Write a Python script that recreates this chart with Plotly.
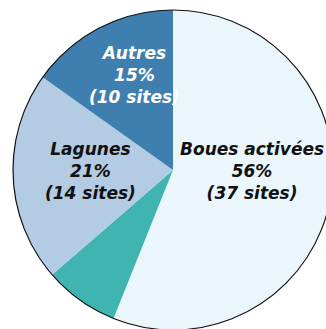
import plotly.graph_objects as go

# Répartition des sites par filière de traitement
categories = ["Boues activées", "Autres filières", "Lagunes", "Autres"]
sites = [37, 5, 14, 10]
colors = ["#EAF5FC", "#40B4B0", "#B3CBE3", "#3F7FB0"]
show_label = [True, False, True, True]
label_colors = ["#111111", None, "#111111", "#FFFFFF"]
# label anchor positions (pixels)
label_pos = [(252, 171), None, (90, 171), (134, 75)]

W, H = 345, 335
cx, cy, r = 173, 170, 160

total = sum(sites)

fig = go.Figure(go.Pie(
    labels=categories,
    values=sites,
    sort=False,
    direction="clockwise",
    rotation=0,
    marker=dict(colors=colors, line=dict(width=0)),
    textinfo="none",
    hoverinfo="label+value+percent",
    showlegend=False,
    domain=dict(x=[(cx - r) / W, (cx + r) / W], y=[1 - (cy + r) / H, 1 - (cy - r) / H]),
))

# outer outline of the disc
fig.add_shape(type="circle", xref="paper", yref="paper",
              x0=(cx - r) / W, x1=(cx + r) / W,
              y0=1 - (cy + r) / H, y1=1 - (cy - r) / H,
              line=dict(color="#111111", width=1.2))

for name, n, show, col, pos in zip(categories, sites, show_label, label_colors, label_pos):
    if not show:
        continue
    pct = round(n / total * 100)
    fig.add_annotation(
        x=pos[0] / W, y=1 - pos[1] / H, xref="paper", yref="paper",
        text=f"<b><i>{name}<br>{pct}%<br>({n} sites)</i></b>",
        showarrow=False, xanchor="center", yanchor="middle",
        font=dict(family="DejaVu Sans", size=17, color=col),
    )

fig.update_layout(
    width=W, height=H, autosize=False,
    margin=dict(l=0, r=0, t=0, b=0),
    paper_bgcolor="white", plot_bgcolor="white",
)

fig.write_html("out.html", post_script=(
    "document.documentElement.style.overflow='hidden';"
    "document.body.style.overflow='hidden';document.body.style.margin='0';"
))
